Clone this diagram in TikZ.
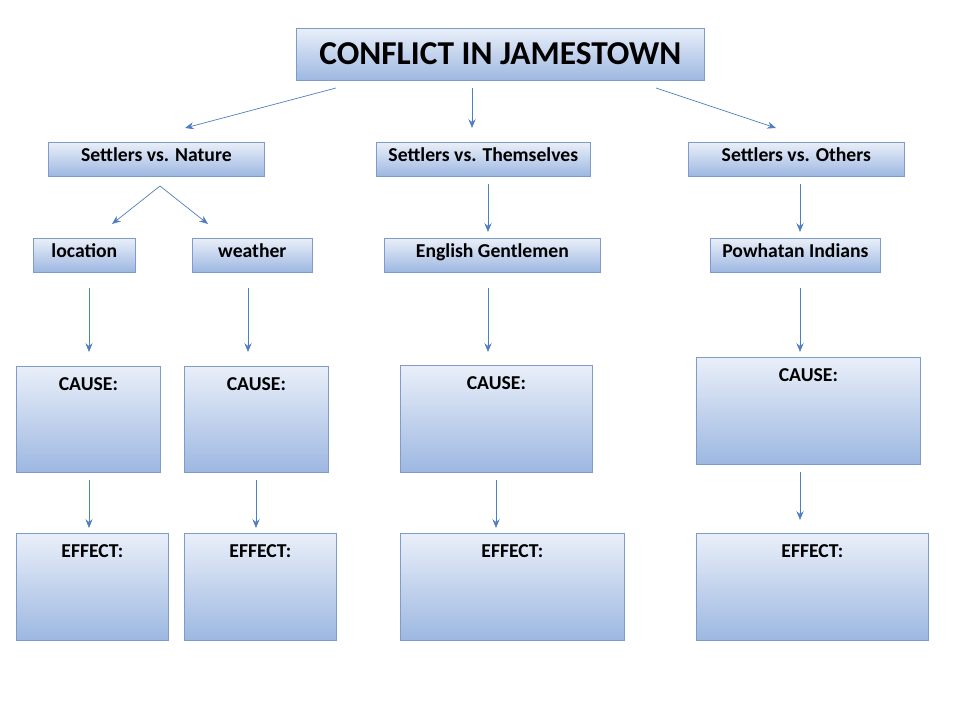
\documentclass[tikz,border=0pt]{standalone}
\usepackage{fontspec}
\setmainfont{Carlito}
\usetikzlibrary{arrows.meta}
\definecolor{boxline}{HTML}{7F9CC8}
\definecolor{boxtop}{HTML}{E9EFF9}
\definecolor{boxbot}{HTML}{9DB7E1}
\definecolor{arrowc}{HTML}{4F7FC0}
\tikzset{
    box/.style={draw=boxline,top color=boxtop,bottom color=boxbot,
        anchor=north west,inner sep=0pt,text height=5pt,text depth=2pt,
        font=\bfseries\fontsize{11.2}{13}\selectfont},
    tbox/.style={box,label={[anchor=north,font=\bfseries\fontsize{11.2}{13}\selectfont,yshift=-3pt]north:#1}},
    link/.style={draw=arrowc,-{Stealth[length=5pt,width=4pt]}},
}
\begin{document}
\begin{tikzpicture}[x=0.02cm,y=-0.02cm]
    \useasboundingbox (0,0) rectangle (960,720);
    % header
    \node (title) [box,minimum width=408*0.02cm,minimum height=52*0.02cm,text height=13pt,text depth=1pt,
        font=\bfseries\fontsize{19}{22}\selectfont] at (296,28) {CONFLICT IN JAMESTOWN};
    % second row
    \node (nature) [box,minimum width=216*0.02cm,minimum height=34*0.02cm] at (48,142) {Settlers vs. Nature};
    \node (selves) [box,minimum width=214*0.02cm,minimum height=34*0.02cm] at (376,142) {Settlers vs. Themselves};
    \node (others) [box,minimum width=216*0.02cm,minimum height=34*0.02cm] at (688,142) {Settlers vs. Others};
    % third row
    \node (location) [box,minimum width=102*0.02cm,minimum height=34*0.02cm] at (33,238) {location};
    \node (weather) [box,minimum width=120*0.02cm,minimum height=34*0.02cm] at (192,238) {weather};
    \node (gentlemen) [box,minimum width=216*0.02cm,minimum height=34*0.02cm] at (384,238) {English Gentlemen};
    \node (indians) [box,minimum width=170*0.02cm,minimum height=34*0.02cm] at (710,238) {Powhatan Indians};
    % causes
    \node (cause1) [tbox=CAUSE:,minimum width=144*0.02cm,minimum height=106*0.02cm] at (16,366) {};
    \node (cause2) [tbox=CAUSE:,minimum width=144*0.02cm,minimum height=106*0.02cm] at (184,366) {};
    \node (cause3) [tbox=CAUSE:,minimum width=192*0.02cm,minimum height=107*0.02cm] at (400,365) {};
    \node (cause4) [tbox=CAUSE:,minimum width=224*0.02cm,minimum height=107*0.02cm] at (696,357) {};
    % effects
    \node (effect1) [tbox=EFFECT:,minimum width=152*0.02cm,minimum height=107*0.02cm] at (16,533) {};
    \node (effect2) [tbox=EFFECT:,minimum width=152*0.02cm,minimum height=107*0.02cm] at (184,533) {};
    \node (effect3) [tbox=EFFECT:,minimum width=224*0.02cm,minimum height=107*0.02cm] at (400,533) {};
    \node (effect4) [tbox=EFFECT:,minimum width=232*0.02cm,minimum height=107*0.02cm] at (696,533) {};
    % arrow ends
    \coordinate (t1) at (336,88);  \coordinate (n1) at (185,128);
    \coordinate (t2) at (472,88);  \coordinate (s1) at (472,128);
    \coordinate (t3) at (656,88);  \coordinate (o1) at (776,128);
    \coordinate (n2) at (160,186); \coordinate (l1) at (112,224); \coordinate (w1) at (208,224);
    \coordinate (s2) at (488,184); \coordinate (g1) at (488,232);
    \coordinate (o2) at (800,184); \coordinate (p1) at (800,232);
    \coordinate (l2) at (89,288);  \coordinate (c1) at (89,352);
    \coordinate (w2) at (248,288); \coordinate (c2) at (248,352);
    \coordinate (g2) at (488,288); \coordinate (c3) at (488,352);
    \coordinate (p2) at (800,288); \coordinate (c4) at (800,352);
    \coordinate (c1b) at (89,480);  \coordinate (e1) at (89,528);
    \coordinate (c2b) at (256,480); \coordinate (e2) at (256,528);
    \coordinate (c3b) at (496,480); \coordinate (e3) at (496,528);
    \coordinate (c4b) at (800,472); \coordinate (e4) at (800,520);
    \foreach \a/\b in {t1/n1,t2/s1,t3/o1,n2/l1,n2/w1,s2/g1,o2/p1,
        l2/c1,w2/c2,g2/c3,p2/c4,c1b/e1,c2b/e2,c3b/e3,c4b/e4}
        \draw [link] (\a) -- (\b);
\end{tikzpicture}
\end{document}
